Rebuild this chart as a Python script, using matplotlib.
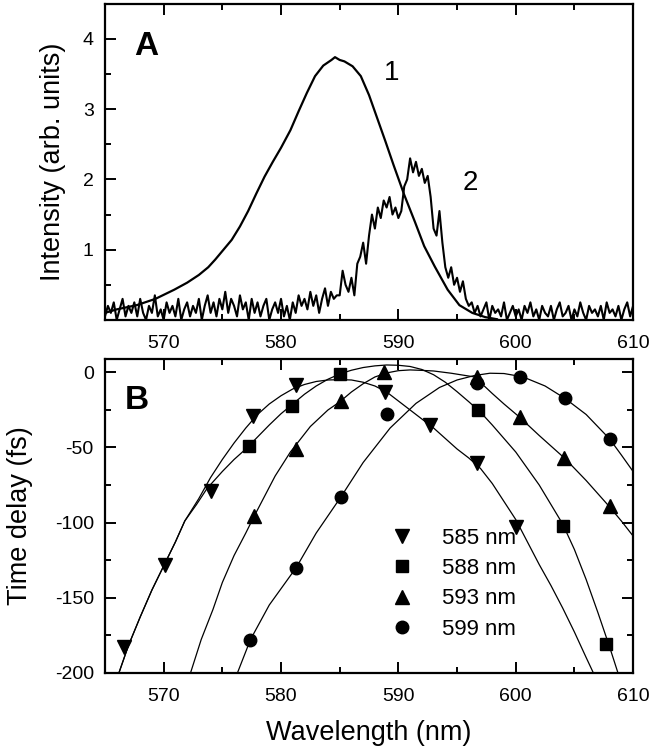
import numpy as np
import matplotlib
matplotlib.use("Agg")
import matplotlib.pyplot as plt
from matplotlib.ticker import MultipleLocator

plt.rcParams['font.family'] = ['Liberation Sans', 'DejaVu Sans']
plt.rcParams['axes.unicode_minus'] = False

# ---- panel A: spectra ----
spec1_wl = [565.0, 566.0, 567.7, 569.3, 570.9, 572.0, 573.0, 573.8, 574.4, 575.1, 575.8,
            576.5, 577.2, 577.9, 578.6, 579.3, 580.0, 580.8, 581.5, 582.2, 582.9, 583.6,
            584.3, 584.6, 585.0, 585.4, 586.1, 586.8, 587.5, 588.2, 588.9, 589.6, 590.5,
            591.4, 592.2, 593.1, 594.2, 595.2, 596.3, 597.4, 598.4]
spec1_int = [0.10, 0.15, 0.21, 0.30, 0.43, 0.53, 0.64, 0.75, 0.86, 1.00, 1.14,
             1.33, 1.55, 1.80, 2.04, 2.25, 2.45, 2.70, 2.97, 3.23, 3.47, 3.62,
             3.70, 3.74, 3.70, 3.68, 3.61, 3.47, 3.20, 2.87, 2.54, 2.20, 1.78,
             1.40, 1.05, 0.76, 0.43, 0.21, 0.10, 0.04, 0.01]

spec2_wl = np.arange(565.0, 610.01, 0.25)
spec2_int = [
    0.05, 0.20, 0.10, 0.25, 0.00, 0.15, 0.30, 0.05, 0.20, 0.10,
    0.25, 0.05, 0.30, 0.10, 0.00, 0.20, 0.10, 0.35, 0.05, 0.15,
    0.00, 0.25, 0.10, 0.20, 0.05, 0.30, 0.00, 0.15, 0.25, 0.05,
    0.20, 0.10, 0.30, 0.00, 0.20, 0.35, 0.10, 0.25, 0.05, 0.30,
    0.15, 0.40, 0.10, 0.30, 0.20, 0.05, 0.35, 0.15, 0.25, 0.00,
    0.30, 0.10, 0.25, 0.05, 0.20, 0.30, 0.00, 0.15, 0.25, 0.10,
    0.30, 0.05, 0.20, 0.00, 0.25, 0.10, 0.35, 0.20, 0.30, 0.15,
    0.40, 0.20, 0.35, 0.10, 0.30, 0.45, 0.20, 0.40, 0.30, 0.35,
    0.35, 0.70, 0.50, 0.40, 0.60, 0.35, 0.80, 0.90, 1.10, 0.80,
    1.20, 1.50, 1.30, 1.60, 1.45, 1.70, 1.60, 1.75, 1.50, 1.60,
    1.45, 1.55, 1.90, 2.00, 2.30, 2.10, 2.25, 2.05, 2.15, 1.95,
    2.05, 1.75, 1.30, 1.20, 1.55, 1.10, 0.75, 0.60, 0.75, 0.50,
    0.60, 0.40, 0.55, 0.30, 0.20, 0.25, 0.10, 0.20, 0.05, 0.15,
    0.25, 0.00, 0.20, 0.10, 0.15, 0.05, 0.25, 0.00, 0.10, 0.20,
    0.05, 0.15, 0.00, 0.20, 0.10, 0.25, 0.05, 0.15, 0.00, 0.20,
    0.10, 0.05, 0.20, 0.00, 0.15, 0.25, 0.05, 0.10, 0.20, 0.00,
    0.15, 0.05, 0.25, 0.10, 0.00, 0.20, 0.10, 0.15, 0.05, 0.20,
    0.00, 0.25, 0.10, 0.15, 0.05, 0.20, 0.00, 0.15, 0.25, 0.05,
    0.20]

# ---- panel B: measured delays ----
wl_585 = [566.6, 570.1, 574.0, 577.6, 581.3, 588.9, 592.7, 596.7, 600.0]
dt_585 = [-183, -128, -79, -29, -8.4, -12.8, -35, -60.5, -103]
wl_588 = [577.3, 580.9, 585.0, 596.8, 604.0, 607.7]
dt_588 = [-49, -22.4, -0.7, -25, -102, -181]
wl_593 = [577.7, 581.3, 585.1, 588.8, 596.7, 600.4, 604.1, 608.0]
dt_593 = [-96, -51, -19, 0.4, -2.9, -29.5, -57, -89]
wl_599 = [577.4, 581.3, 585.1, 589.0, 596.7, 600.4, 604.2, 608.0]
dt_599 = [-178, -130, -83, -28, -6.9, -2.9, -17.3, -44.3]

# fitted curves
fit585_wl = [566.2, 567, 568, 569, 570, 571, 571.8, 573, 574, 575, 576, 577, 578, 579,
             580, 581, 582, 583, 584, 585, 586, 587, 588, 589, 590, 591, 592, 593, 594,
             595, 596, 597, 598, 599, 600, 601, 602, 603, 604, 605, 606, 606.6]
fit585_dt = [-200, -182, -163, -145, -129, -113, -99, -84, -70, -58, -47, -37, -28, -21,
             -15.5, -11, -8, -6, -5, -4.8, -5, -6.5, -9, -13, -19, -25, -31, -37, -44,
             -51, -57, -64, -74, -86, -98, -113, -128, -142, -157, -173, -190, -200]
fit588_wl = [566.2, 567, 568, 569, 570, 571, 571.8, 572.8, 573.7, 575, 576, 577, 578,
             579, 580, 581, 582, 583, 584, 585, 586, 587, 588, 589, 590, 591, 592, 593,
             594, 595, 596, 597, 598, 599, 600, 601, 602, 603, 604, 605, 606, 607, 608,
             608.7]
fit588_dt = [-200, -182, -163, -145, -129, -113, -99, -88, -77.3, -66, -58, -51, -43,
             -35, -27.5, -21, -14.5, -9, -4.5, -1, 1.5, 3.3, 4.4, 5, 4.8, 4, 2, -1.5,
             -6.5, -12.8, -19.5, -26.5, -35, -44, -53, -64, -75, -88, -101, -118, -138,
             -160, -183, -200]
fit593_wl = [572.3, 573.2, 574.2, 575, 576, 577, 577.7, 578.5, 579.5, 580.8, 582.5, 584,
             585, 586, 587, 588, 589, 590, 591, 592, 593, 594.5, 596.5, 598, 599, 600.3,
             602, 604.2, 606, 608, 609, 610]
fit593_dt = [-200, -178, -158, -140, -122, -107, -96, -84, -69, -53, -36, -25,
             -19.6, -13, -7.5, -3, -0.3, 1.2, 1.7, 1.4, 1, -0.5, -3, -14, -21, -29.6,
             -42, -57.4, -72, -89.6, -99, -109]
fit599_wl = [576.3, 577.4, 579, 581.3, 583, 585.1, 587, 589.3, 591.5, 593.5, 595, 596.5,
             597.8, 599, 600.6, 602.5, 604.2, 606, 608, 609, 610]
fit599_dt = [-200, -178, -155, -130, -107, -83, -60, -37, -20.6, -10, -5, -2,
             -0.5, -0.7, -2.9, -9, -17.3, -28, -44.3, -55, -66]

fig = plt.figure(figsize=(6.52, 7.51), dpi=100)
axA = fig.add_axes([0.161, 0.574, 0.810, 0.421])
axB = fig.add_axes([0.161, 0.1045, 0.810, 0.4175])

axA.plot(spec1_wl, spec1_int, color='black', lw=1.6)
axA.plot(spec2_wl, spec2_int, color='black', lw=1.5)
axA.set_xlim(565, 610)
axA.set_ylim(0, 4.5)
axA.set_yticks([1, 2, 3, 4])
axA.yaxis.set_minor_locator(MultipleLocator(0.5))
axA.xaxis.set_major_locator(MultipleLocator(10))
axA.xaxis.set_minor_locator(MultipleLocator(5))
axA.tick_params(which='both', direction='in', top=True, bottom=True, left=True, right=False,
                width=1.4, labelsize=14, pad=8)
axA.tick_params(axis='x', pad=11)
axA.tick_params(which='major', length=8)
axA.tick_params(which='minor', length=4.5)
axA.set_ylabel('Intensity (arb. units)', fontsize=19.5, labelpad=12)
axA.text(568.5, 3.89, 'A', fontsize=24, fontweight='bold', ha='center', va='center')
axA.text(589.4, 3.52, '1', fontsize=20, ha='center', va='center')
axA.text(596.1, 1.95, '2', fontsize=20, ha='center', va='center')

for xs, ys in [(fit585_wl, fit585_dt), (fit588_wl, fit588_dt),
               (fit593_wl, fit593_dt), (fit599_wl, fit599_dt)]:
    axB.plot(xs, ys, color='black', lw=0.9)
axB.plot(wl_585, dt_585, 'v', color='black', ms=10, ls='none', label='585 nm')
axB.plot(wl_588, dt_588, 's', color='black', ms=8, ls='none', label='588 nm')
axB.plot(wl_593, dt_593, '^', color='black', ms=10, ls='none', label='593 nm')
axB.plot(wl_599, dt_599, 'o', color='black', ms=9, ls='none', label='599 nm')
axB.set_xlim(565, 610)
axB.set_ylim(-200, 9)
axB.xaxis.set_major_locator(MultipleLocator(10))
axB.xaxis.set_minor_locator(MultipleLocator(5))
axB.yaxis.set_major_locator(MultipleLocator(50))
axB.yaxis.set_minor_locator(MultipleLocator(25))
axB.tick_params(which='both', direction='in', top=True, bottom=True, left=True, right=True,
                width=1.4, labelsize=14, pad=8)
axB.tick_params(axis='x', pad=11)
axB.tick_params(which='major', length=8)
axB.tick_params(which='minor', length=4.5)
axB.set_ylabel('Time delay (fs)', fontsize=19.5, labelpad=16)
axB.set_xlabel('Wavelength (nm)', fontsize=19.5, labelpad=11)
axB.text(567.7, -18.5, 'B', fontsize=24, fontweight='bold', ha='center', va='center')
axB.legend(loc='upper left', bbox_to_anchor=(0.525, 0.49), frameon=False, fontsize=16,
           handletextpad=1.3, labelspacing=0.42, handlelength=1.0, borderaxespad=0)

for ax in (axA, axB):
    for s in ax.spines.values():
        s.set_linewidth(1.6)

fig.savefig('out.png', dpi=100)
